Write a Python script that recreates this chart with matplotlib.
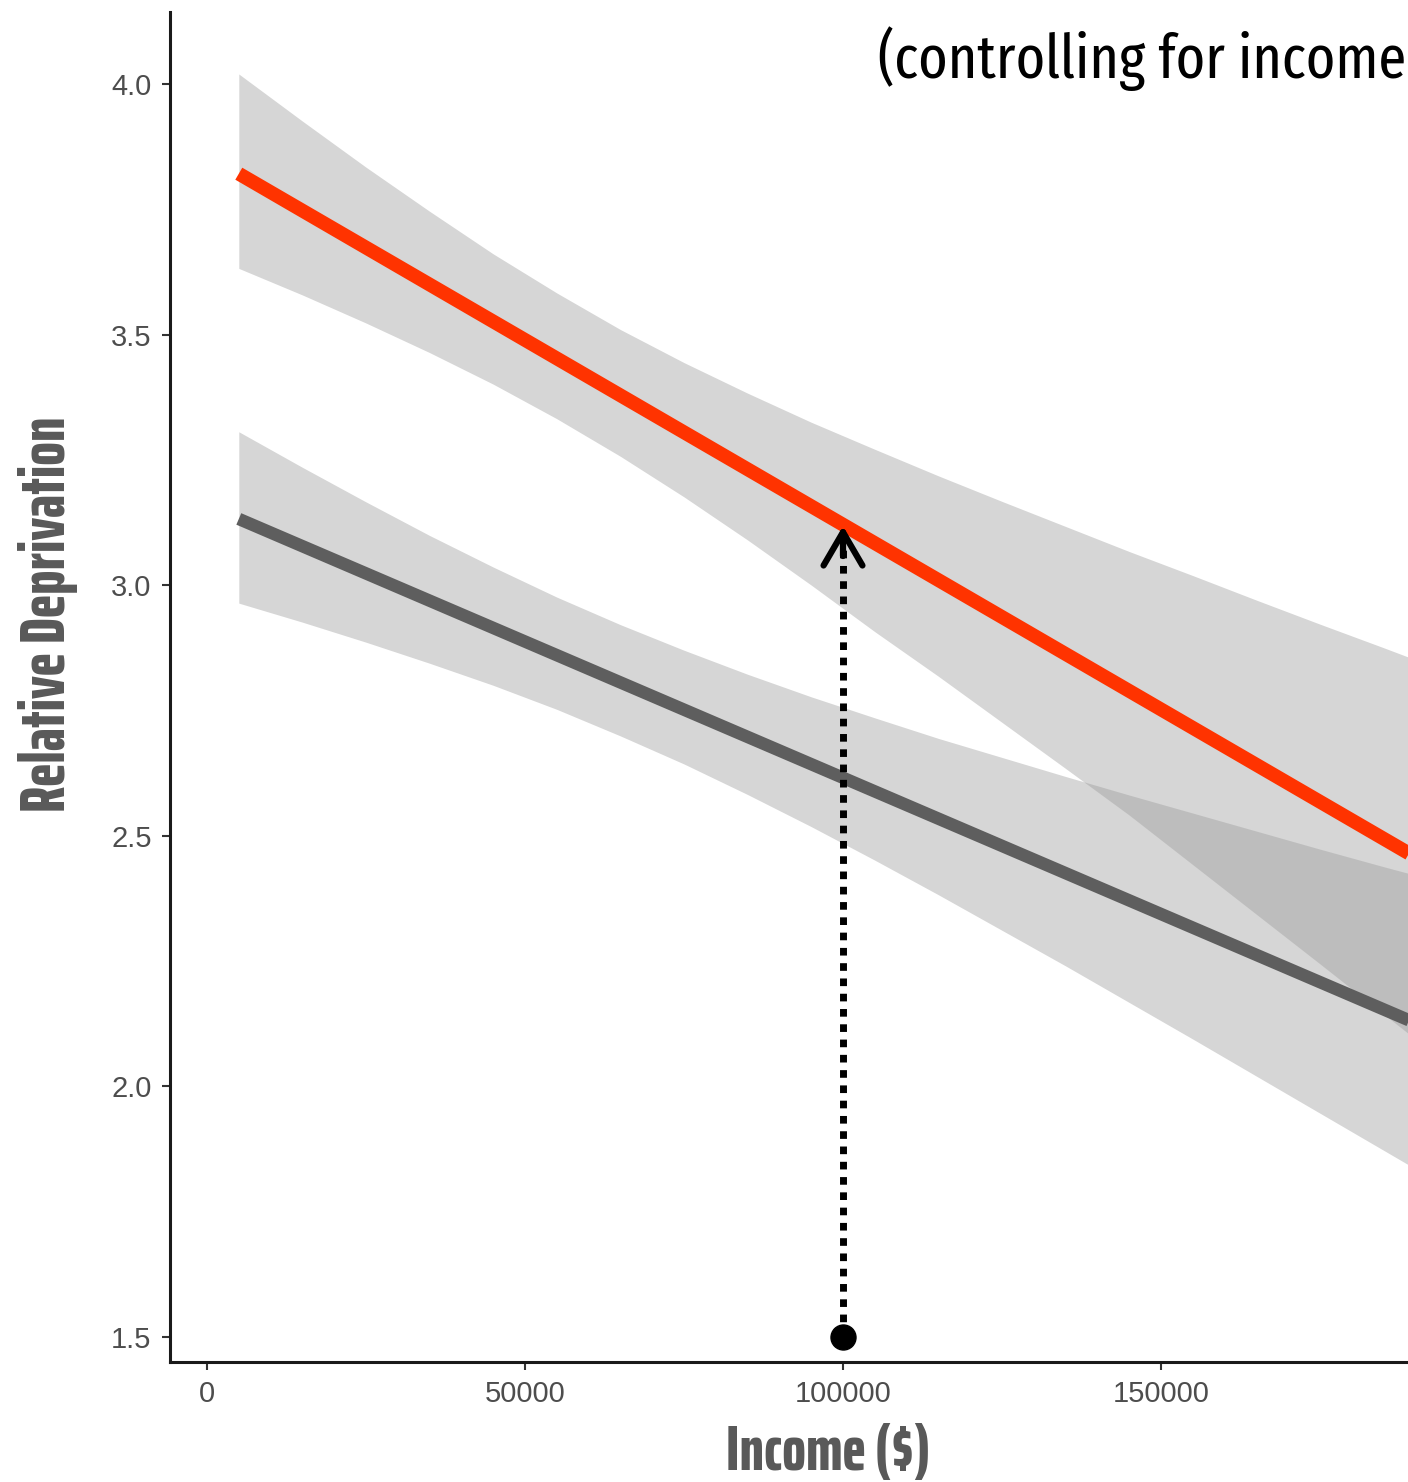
import matplotlib
matplotlib.use("Agg")
import matplotlib.pyplot as plt

# data
band_x = [5000, 15000, 25000, 35000, 45000, 55000, 65000, 75000, 85000, 95000,
          105000, 115000, 125000, 135000, 145000, 155000, 165000, 175000, 185000, 190000]
red_upper = [4.020, 3.926, 3.834, 3.746, 3.661, 3.583, 3.510, 3.444, 3.383, 3.325,
             3.271, 3.218, 3.167, 3.117, 3.067, 3.019, 2.970, 2.922, 2.875, 2.851]
red_lower = [3.632, 3.579, 3.523, 3.464, 3.401, 3.332, 3.257, 3.176, 3.090, 3.000,
             2.907, 2.818, 2.726, 2.634, 2.541, 2.442, 2.343, 2.244, 2.144, 2.094]
grey_upper = [3.306, 3.235, 3.166, 3.099, 3.036, 2.976, 2.921, 2.870, 2.822, 2.777,
              2.735, 2.694, 2.656, 2.618, 2.581, 2.545, 2.509, 2.473, 2.438, 2.421]
grey_lower = [2.964, 2.926, 2.886, 2.844, 2.800, 2.752, 2.699, 2.643, 2.582, 2.518,
              2.451, 2.382, 2.311, 2.240, 2.167, 2.094, 2.020, 1.946, 1.872, 1.835]

fit_x = [5000, 190000]
red_fit = [3.821, 2.457]
grey_fit = [3.132, 2.126]

marker_income = 100000
marker_start = 1.5
marker_end = 3.118

x_ticks = [0, 50000, 100000, 150000]
x_ticklabels = ["0", "50000", "100000", "150000"]
y_ticks = [1.5, 2.0, 2.5, 3.0, 3.5, 4.0]
y_ticklabels = ["1.5", "2.0", "2.5", "3.0", "3.5", "4.0"]

fig = plt.figure(figsize=(14.08, 14.82), dpi=100)
ax = fig.add_axes([170 / 1408, 120 / 1482, 1238 / 1408, 1350 / 1482])

# confidence bands, overlap darkens like ggplot's alpha
ax.fill_between(band_x, grey_lower, grey_upper, color="#999999", alpha=0.4, lw=0)
ax.fill_between(band_x, red_lower, red_upper, color="#999999", alpha=0.4, lw=0)
ax.plot(fit_x, grey_fit, color="#5e5e5e", lw=9, solid_capstyle="butt")
ax.plot(fit_x, red_fit, color="#ff3300", lw=10, solid_capstyle="butt")

# dotted marker from the axis up to the red line
ax.plot([marker_income, marker_income], [marker_start, marker_end - 0.03],
        color="black", lw=5, ls=(0, (1.1, 1.1)))
ax.plot([marker_income], [marker_start], "o", color="black", ms=18)
ax.annotate("", xy=(marker_income, marker_end), xytext=(marker_income, marker_end - 0.06),
            arrowprops=dict(arrowstyle="->, head_length=1.2, head_width=0.7",
                            lw=4.5, color="black", shrinkA=0, shrinkB=0, mutation_scale=20))

ax.set_xlim(-5818, 188836)
ax.set_ylim(1.4495, 4.1437)
ax.set_xticks(x_ticks, x_ticklabels)
ax.set_yticks(y_ticks, y_ticklabels)
for s in ["top", "right"]:
    ax.spines[s].set_visible(False)
for s in ["left", "bottom"]:
    ax.spines[s].set_linewidth(2.2)
    ax.spines[s].set_color("#1a1a1a")
ax.tick_params(length=5.8, width=1.5, color="#333333", labelsize=21, labelcolor="#4d4d4d", pad=7.5)
for lab in ax.get_xticklabels() + ax.get_yticklabels():
    lab.set_family("Liberation Sans")

fig.text(48 / 1408, 1 - 614 / 1482, "Relative Deprivation", rotation=90, ha="center", va="center",
         fontsize=45, fontweight=800, color="#595959", family="Saira ExtraCondensed")
fig.text(828 / 1408, 1 - 1453 / 1482, "Income ($)", ha="center", va="center",
         fontsize=45, fontweight=800, color="#595959", family="Saira ExtraCondensed")
fig.text(878 / 1408, 1 - 78 / 1482, "(controlling for income", ha="left", va="baseline",
         fontsize=44, color="black", family="Fira Sans Extra Condensed")

fig.savefig("out.png", dpi=100)
